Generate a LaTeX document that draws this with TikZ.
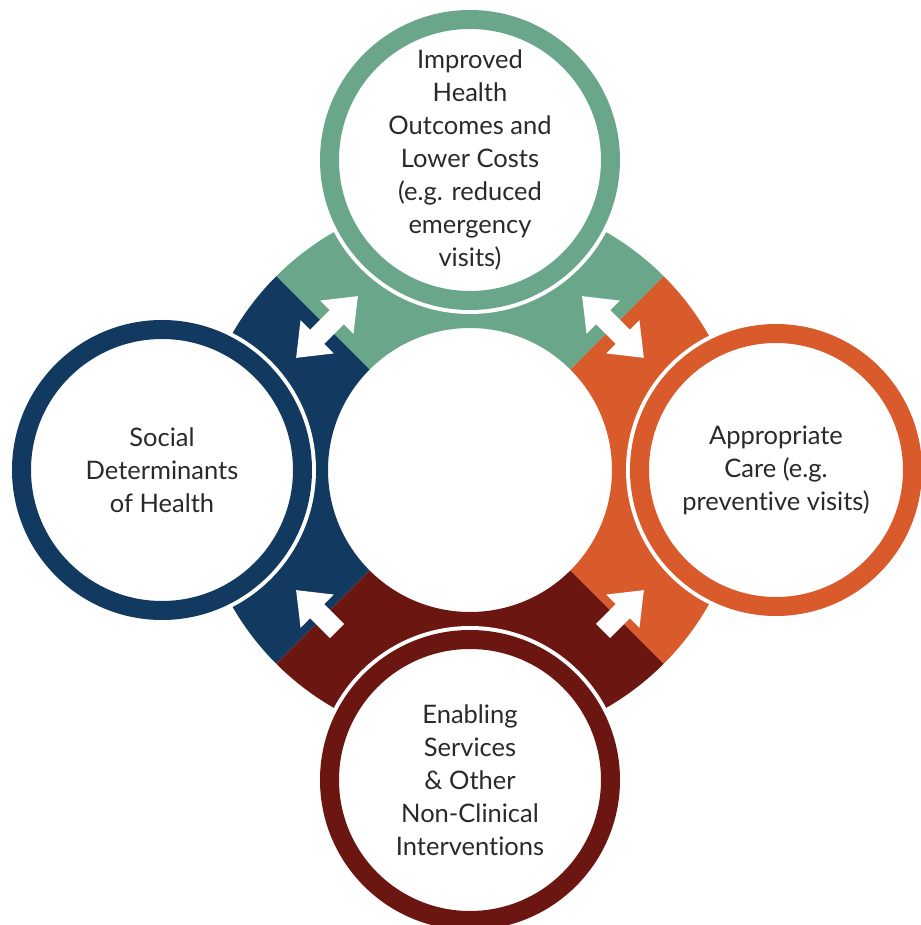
\documentclass[tikz,border=0pt]{standalone}
\usepackage{fontspec}
\setmainfont[Ligatures=NoCommon]{Lato}
\usetikzlibrary{arrows.meta}

\definecolor{sage}{HTML}{6AA78A}
\definecolor{navy}{HTML}{123A61}
\definecolor{rust}{HTML}{D95A2A}
\definecolor{maroon}{HTML}{6B1611}
\definecolor{ink}{HTML}{2A2A2A}

\begin{document}
\begin{tikzpicture}[x=1pt,y=1pt,
    hub/.style={circle, minimum size=281pt, inner sep=0pt, line width=19pt,
        fill=white, draw=#1, align=center, text=ink,
        font=\fontsize{25.5}{33}\selectfont,
        preaction={draw=white, line width=27pt}},
    flow/.style={white, line width=20pt, -{Triangle[width=45pt,length=30pt]}},
    twoway/.style={white, line width=20pt, {Triangle[width=45pt,length=30pt]}-{Triangle[width=45pt,length=30pt]}}]
    \useasboundingbox (-470,-455) rectangle (450,470);

    % quarter rings
    \fill[sage](45:274pt)arc[start angle=45, end angle=135, radius=274pt]--(135:142pt)arc[start angle=135, end angle=45, radius=142pt]--cycle;
    \fill[navy](135:274pt)arc[start angle=135, end angle=225, radius=274pt]--(225:142pt)arc[start angle=225, end angle=135, radius=142pt]--cycle;
    \fill[maroon](225:274pt)arc[start angle=225, end angle=315, radius=274pt]--(315:142pt)arc[start angle=315, end angle=225, radius=142pt]--cycle;
    \fill[rust](-45:274pt)arc[start angle=-45, end angle=45, radius=274pt]--(45:142pt)arc[start angle=45, end angle=-45, radius=142pt]--cycle;

    % arrow ends
    \coordinate (tl1) at (-174,112);
    \coordinate (tl2) at (-112,174);
    \coordinate (tr1) at (112,174);
    \coordinate (tr2) at (174,112);
    \coordinate (bl1) at (-133,-161);
    \coordinate (bl2) at (-174,-120);
    \coordinate (br1) at (133,-161);
    \coordinate (br2) at (174,-120);

    \draw[twoway](tl1)--(tl2);
    \draw[twoway](tr1)--(tr2);
    \draw[flow](bl1)--(bl2);
    \draw[flow](br1)--(br2);

    % circles
    \node[hub=sage] (outcomes) at (0,310) {Improved\\Health\\Outcomes and\\Lower Costs\\(e.g. reduced\\emergency\\visits)};
    \node[hub=navy] (social) at (-308,0) {Social\\Determinants\\of Health};
    \node[hub=rust, minimum size=273pt] (care) at (306,0) {Appropriate\\Care (e.g.\\preventive visits)};
    \node[hub=maroon] (enabling) at (0,-310) {Enabling\\Services\\\& Other\\Non-Clinical\\Interventions};
\end{tikzpicture}
\end{document}
